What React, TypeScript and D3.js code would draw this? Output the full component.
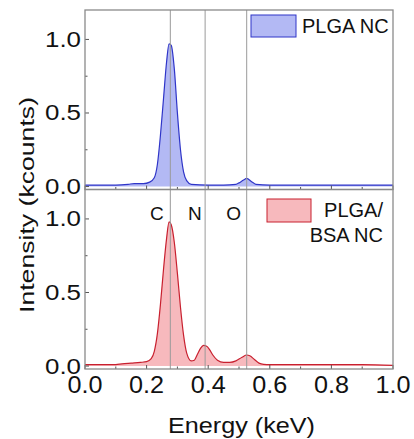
import React from "react";
import * as d3 from "d3";

const energyTop = [0, 0.05, 0.1, 0.14, 0.16, 0.19, 0.21, 0.225, 0.235, 0.245, 0.255, 0.265, 0.273, 0.28, 0.29, 0.3, 0.31, 0.32, 0.33, 0.345, 0.4, 0.45, 0.49, 0.5, 0.515, 0.525, 0.54, 0.555, 0.6, 0.7, 0.8, 0.9, 1.0];
const intensityTop = [0.01, 0.01, 0.01, 0.015, 0.02, 0.02, 0.03, 0.06, 0.15, 0.35, 0.6, 0.85, 0.97, 0.96, 0.8, 0.5, 0.25, 0.1, 0.04, 0.015, 0.01, 0.01, 0.015, 0.025, 0.045, 0.055, 0.035, 0.015, 0.01, 0.01, 0.01, 0.01, 0.01];

const energyBottom = [0, 0.05, 0.1, 0.12, 0.15, 0.18, 0.2, 0.215, 0.225, 0.235, 0.245, 0.255, 0.265, 0.273, 0.28, 0.29, 0.3, 0.31, 0.32, 0.33, 0.345, 0.355, 0.365, 0.375, 0.385, 0.395, 0.405, 0.415, 0.43, 0.45, 0.47, 0.49, 0.51, 0.525, 0.535, 0.55, 0.565, 0.58, 0.6, 0.7, 0.8, 0.9, 1.0];
const intensityBottom = [0.01, 0.01, 0.01, 0.015, 0.02, 0.025, 0.03, 0.05, 0.1, 0.22, 0.42, 0.66, 0.87, 0.98, 0.96, 0.84, 0.63, 0.4, 0.21, 0.09, 0.035, 0.04, 0.08, 0.12, 0.14, 0.135, 0.11, 0.075, 0.04, 0.025, 0.025, 0.035, 0.06, 0.075, 0.07, 0.045, 0.02, 0.012, 0.01, 0.01, 0.01, 0.01, 0.005];

const elementLabels = ["C", "N", "O"];
const elementEnergies = [0.277, 0.39, 0.525];
const elementLabelX = [0.233, 0.357, 0.483];

const xTicks = [0, 0.2, 0.4, 0.6, 0.8, 1.0];
const xMinor = [0.1, 0.3, 0.5, 0.7, 0.9];
const yTicks = [0, 0.5, 1.0];
const yMinor = [0.25, 0.75];

const FONT = "'Liberation Sans', Arial, Helvetica, sans-serif";

export default function App() {
  const W = 414, H = 439;
  const left = 85, right = 393;
  const topPanel = { y0: 10, y1: 189.5 };
  const botPanel = { y0: 189.5, y1: 369 };
  const x = d3.scaleLinear().domain([0, 1]).range([left, right]);
  const yT = d3.scaleLinear().domain([-0.02, 1.2]).range([topPanel.y1, topPanel.y0]);
  const yB = d3.scaleLinear().domain([-0.02, 1.2]).range([botPanel.y1, botPanel.y0]);

  const mk = (xs: number[], ys: number[]) => xs.map((e, i) => [e, ys[i]] as [number, number]);
  const topData = mk(energyTop, intensityTop);
  const botData = mk(energyBottom, intensityBottom);

  const line = (y: d3.ScaleLinear<number, number>) =>
    d3.line<[number, number]>().x(d => x(d[0])).y(d => y(d[1])).curve(d3.curveMonotoneX);
  const area = (y: d3.ScaleLinear<number, number>) =>
    d3.area<[number, number]>().x(d => x(d[0])).y0(y(0)).y1(d => y(d[1])).curve(d3.curveMonotoneX);

  const frame = "#8a8a8a";

  const panelAxes = (y: d3.ScaleLinear<number, number>, p: { y0: number; y1: number }) => (
    <g>
      {xTicks.map(t => (
        <line key={"xt" + t} x1={x(t)} x2={x(t)} y1={p.y1} y2={p.y1 - 4} stroke="#555" strokeWidth={1} />
      ))}
      {xMinor.map(t => (
        <line key={"xm" + t} x1={x(t)} x2={x(t)} y1={p.y1} y2={p.y1 - 2.5} stroke="#555" strokeWidth={1} />
      ))}
      {yTicks.map(t => (
        <line key={"yt" + t} x1={left} x2={left + 4} y1={y(t)} y2={y(t)} stroke="#555" strokeWidth={1} />
      ))}
      {yMinor.map(t => (
        <line key={"ym" + t} x1={left} x2={left + 2.5} y1={y(t)} y2={y(t)} stroke="#555" strokeWidth={1} />
      ))}
      {yTicks.map(t => (
        <text key={"yl" + t} x={81} y={y(t) + 7.5} textAnchor="end" fontSize={22} fontFamily={FONT} fill="#111"
          textLength={36} lengthAdjust="spacingAndGlyphs">
          {t.toFixed(1)}
        </text>
      ))}
    </g>
  );

  return (
    <svg width={W} height={H} style={{ position: "absolute", left: 0, top: 0, background: "#fff" }}>
      <path d={area(yT)(topData) || ""} fill="#b3b9f4" />
      <path d={line(yT)(topData) || ""} fill="none" stroke="#2f35c8" strokeWidth={1.2} />
      <path d={area(yB)(botData) || ""} fill="#f7b9bd" />
      <path d={line(yB)(botData) || ""} fill="none" stroke="#c8202f" strokeWidth={1.2} />

      {elementEnergies.map(e => (
        <line key={"v" + e} x1={x(e)} x2={x(e)} y1={topPanel.y0} y2={botPanel.y1} stroke="#9a9a9a" strokeWidth={1} />
      ))}
      {elementLabels.map((l, i) => (
        <text key={l} x={x(elementLabelX[i])} y={220} textAnchor="middle" fontSize={19} fontFamily={FONT} fill="#111">
          {l}
        </text>
      ))}

      {panelAxes(yT, topPanel)}
      {panelAxes(yB, botPanel)}

      <rect x={left} y={topPanel.y0} width={right - left} height={topPanel.y1 - topPanel.y0} fill="none" stroke={frame} strokeWidth={1.3} />
      <rect x={left} y={botPanel.y0} width={right - left} height={botPanel.y1 - botPanel.y0} fill="none" stroke={frame} strokeWidth={1.3} />

      {xTicks.map(t => (
        <text key={"xl" + t} x={x(t)} y={393} textAnchor="middle" fontSize={23} fontFamily={FONT} fill="#111"
          textLength={35} lengthAdjust="spacingAndGlyphs">
          {t.toFixed(1)}
        </text>
      ))}

      <rect x={251} y={15} width={45} height={22} fill="#b3b9f4" stroke="#2f35c8" strokeWidth={1} />
      <text x={302} y={33} fontSize={20} fontFamily={FONT} fill="#111">PLGA NC</text>
      <rect x={267} y={199} width={44} height={23} fill="#f7b9bd" stroke="#c8202f" strokeWidth={1} />
      <text x={383} y={217} textAnchor="end" fontSize={20} fontFamily={FONT} fill="#111">PLGA/</text>
      <text x={383} y={242} textAnchor="end" fontSize={20} fontFamily={FONT} fill="#111">BSA NC</text>

      <text x={241.5} y={433} textAnchor="middle" fontSize={22} fontFamily={FONT} fill="#111"
        textLength={147} lengthAdjust="spacingAndGlyphs">Energy (keV)</text>
      <text transform="translate(34, 205) rotate(-90)" textAnchor="middle" fontSize={21} fontFamily={FONT} fill="#111"
        textLength={216} lengthAdjust="spacingAndGlyphs">
        Intensity (kcounts)
      </text>
    </svg>
  );
}
